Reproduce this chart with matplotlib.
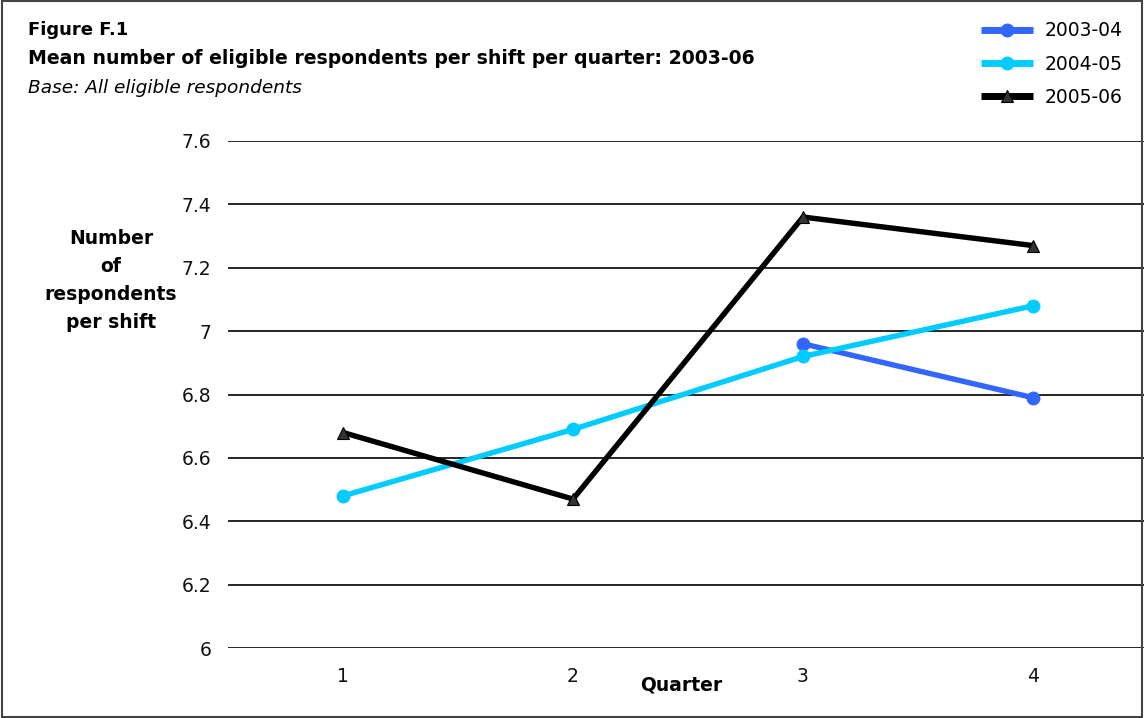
import matplotlib.pyplot as plt
from matplotlib.patches import Rectangle

# Mean eligible respondents per shift, by quarter
quarters = [1, 2, 3, 4]
series_names = ["2003-04", "2004-05", "2005-06"]
vals_2003_04 = [None, None, 6.96, 6.79]
vals_2004_05 = [6.48, 6.69, 6.92, 7.08]
vals_2005_06 = [6.68, 6.47, 7.36, 7.27]
y_ticks = [6, 6.2, 6.4, 6.6, 6.8, 7, 7.2, 7.4, 7.6]
y_tick_labels = ["6", "6.2", "6.4", "6.6", "6.8", "7", "7.2", "7.4", "7.6"]

plt.rcParams['font.family'] = ['DejaVu Sans']

W, H = 1144, 718
fig = plt.figure(figsize=(W / 100, H / 100), dpi=100)

# plot area in pixels: x from 228 to right edge, y from 141 (7.6) to 648 (6)
left_px, top_px, bottom_px = 228, 141, 648
ax = fig.add_axes([left_px / W, 1 - bottom_px / H, (W - left_px) / W, (bottom_px - top_px) / H])

def pts(vals):
    xs = [q for q, v in zip(quarters, vals) if v is not None]
    ys = [v for v in vals if v is not None]
    return xs, ys

x, y = pts(vals_2003_04)
ax.plot(x, y, color='#3366FF', linewidth=3.9, marker='o', markersize=9,
        label=series_names[0], zorder=3, solid_capstyle='butt')
x, y = pts(vals_2004_05)
ax.plot(x, y, color='#00CCFF', linewidth=3.9, marker='o', markersize=9,
        label=series_names[1], zorder=3, solid_capstyle='butt')
x, y = pts(vals_2005_06)
ax.plot(x, y, color='black', linewidth=3.9, marker='^', markersize=9,
        markerfacecolor='#333333', markeredgecolor='black', markeredgewidth=0.8,
        label=series_names[2], zorder=4, solid_capstyle='butt')

ax.set_xlim(0.5, 0.5 + (W - left_px) / 230)
ax.set_ylim(6, 7.6)
ax.set_yticks(y_ticks)
ax.set_yticklabels(y_tick_labels)
ax.set_xticks(quarters)
ax.set_xticklabels([str(q) for q in quarters])
ax.tick_params(axis='both', length=0, labelsize=13.5, colors='#111111')
ax.tick_params(axis='y', pad=12)
ax.tick_params(axis='x', pad=14)
ax.yaxis.grid(True, color='black', linewidth=1.2)
ax.set_axisbelow(True)
for s in ax.spines.values():
    s.set_visible(False)
ax.patch.set_alpha(0)

# titles
fig.text(28 / W, 1 - 30 / H, "Figure F.1", fontsize=13, fontweight='bold', va='center')
fig.text(28 / W, 1 - 58 / H, "Mean number of eligible respondents per shift per quarter: 2003-06",
         fontsize=13.6, fontweight='bold', va='center')
fig.text(28 / W, 1 - 88 / H, "Base: All eligible respondents", fontsize=13.3, style='italic',
         va='center')

# axis labels
fig.text(111 / W, 1 - 281 / H, "Number\nof\nrespondents\nper shift", fontsize=13.5,
         fontweight='bold', ha='center', va='center', linespacing=1.6)
fig.text(681 / W, 1 - 685 / H, "Quarter", fontsize=13.5, fontweight='bold',
         ha='center', va='center')

leg = fig.legend(loc='upper right', bbox_to_anchor=(1130 / W, 1 - 14 / H), frameon=False,
                 fontsize=13.5, handlelength=2.8, labelspacing=0.75, handletextpad=0.6,
                 borderaxespad=0)
for line in leg.get_lines():
    line.set_linewidth(5)

# frame round the figure
fig.patches.append(Rectangle((0.002, 0.002), 0.996, 0.996, transform=fig.transFigure,
                             fill=False, edgecolor='#444444', linewidth=1.5))

fig.savefig("out.png", dpi=100)
